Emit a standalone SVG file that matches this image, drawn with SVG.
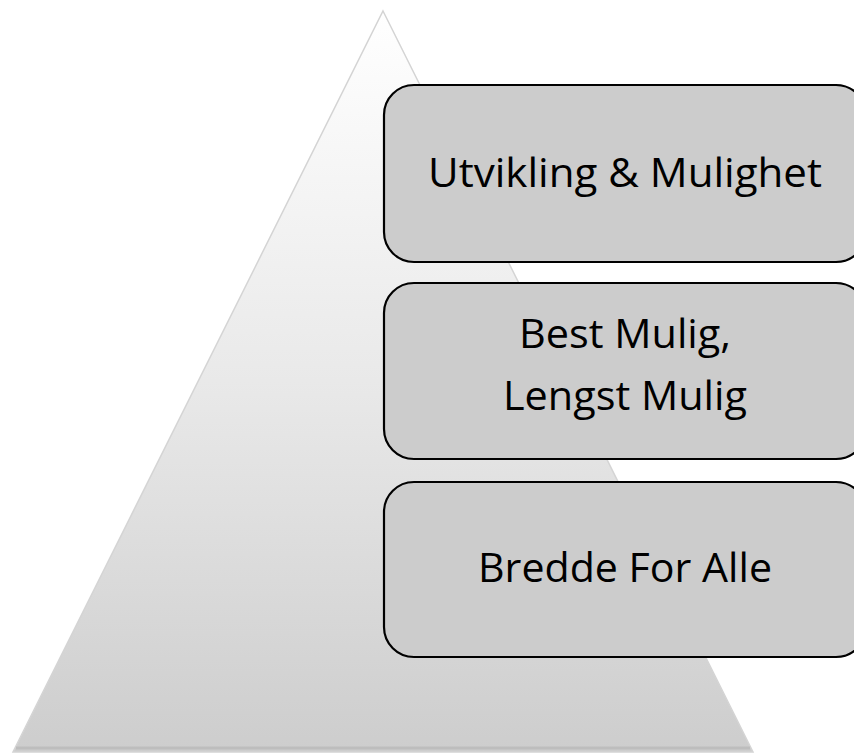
<svg xmlns="http://www.w3.org/2000/svg" width="854" height="753" viewBox="0 0 854 753">
<defs>
<linearGradient id="tri" x1="0" y1="0" x2="0" y2="1">
<stop offset="0" stop-color="#ffffff"/>
<stop offset="0.5" stop-color="#e9e9e9"/>
<stop offset="1" stop-color="#cdcdcd"/>
</linearGradient>
<style>
.box{fill:#cccccc;stroke:#000000;stroke-width:2.2}
.lbl{font-family:"Open Sans","Liberation Sans",sans-serif;font-size:41px;fill:#000000;text-anchor:middle}
</style>
</defs>
<rect width="854" height="753" fill="#ffffff"/>
<g id="pyramid">
<polygon points="383,11 753,752 13,752" fill="url(#tri)" stroke="#d4d4d4" stroke-width="1.5"/>
<polyline points="16,748 750,748" fill="none" stroke="#bdbdbd" stroke-width="3"/>
</g>
<g id="node1">
<rect class="box" x="384" y="85" width="482" height="177" rx="30" ry="30"/>
<text class="lbl" x="625" y="187" textLength="394" lengthAdjust="spacingAndGlyphs">Utvikling &amp; Mulighet</text>
</g>
<g id="node2">
<rect class="box" x="384" y="283" width="482" height="176" rx="30" ry="30"/>
<text class="lbl" x="625" y="348" textLength="212" lengthAdjust="spacingAndGlyphs">Best Mulig,</text>
<text class="lbl" x="625" y="410" textLength="244" lengthAdjust="spacingAndGlyphs">Lengst Mulig</text>
</g>
<g id="node3">
<rect class="box" x="384" y="482" width="482" height="175" rx="30" ry="30"/>
<text class="lbl" x="625" y="582" textLength="294" lengthAdjust="spacingAndGlyphs">Bredde For Alle</text>
</g>
<g id="connectors"/>
</svg>
